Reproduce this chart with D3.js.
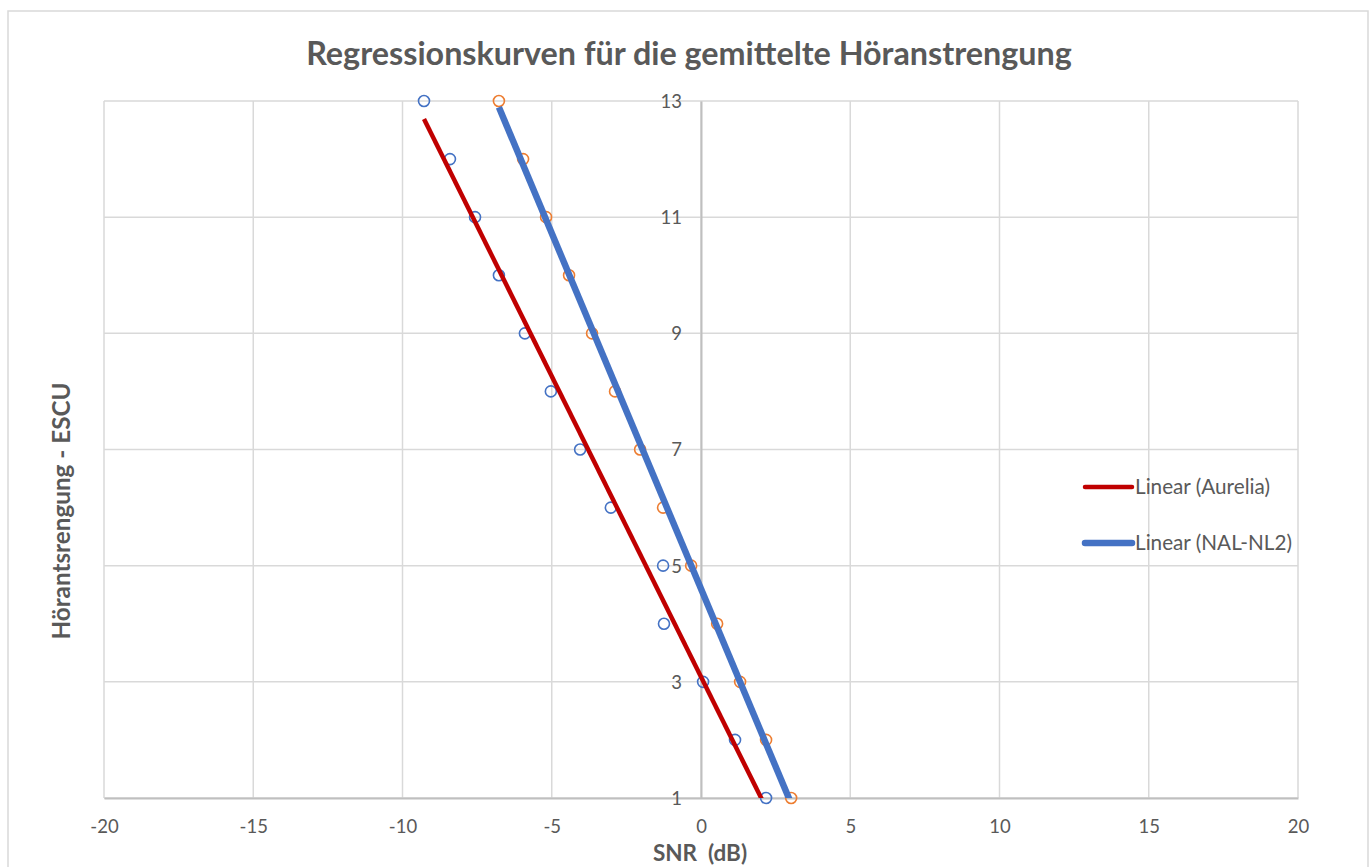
<!DOCTYPE html>
<html>
<head>
<meta charset="utf-8">
<script src="https://cdn.jsdelivr.net/npm/d3@7"></script>
<style>
  html, body { margin: 0; padding: 0; background: #fff; }
  svg { display: block; font-family: Lato, "Open Sans", sans-serif; }
</style>
</head>
<body>
<svg id="chart" width="1370" height="867"></svg>
<script>
// Listening effort levels (ESCU scale), shared by both series
const escuLevels = [13, 12, 11, 10, 9, 8, 7, 6, 5, 4, 3, 2, 1];
// SNR (dB) at each effort level
const snrAurelia = [-9.28, -8.41, -7.57, -6.77, -5.90, -5.03, -4.05, -3.02, -1.27, -1.24, 0.07, 1.14, 2.18];
const snrNalNl2  = [-6.77, -5.96, -5.19, -4.42, -3.65, -2.88, -2.04, -1.27, -0.33, 0.54, 1.31, 2.18, 3.02];

const xTicks = [-20, -15, -10, -5, 0, 5, 10, 15, 20];
const yTicks = [1, 3, 5, 7, 9, 11, 13];

const titleText = "Regressionskurven für die gemittelte Höranstrengung";
const xTitle = "SNR  (dB)";
const yTitle = "Hörantsrengung - ESCU";
const legendLabels = ["Linear (Aurelia)", "Linear (NAL-NL2)"];

const colors = { markerA: "#4472C4", markerB: "#ED7D31", trendA: "#C00000", trendB: "#4472C4" };
const textColor = "#595959";

const svg = d3.select("#chart");
const plot = { left: 104, right: 1298, top: 101, bottom: 798 };

const x = d3.scaleLinear().domain([-20, 20]).range([plot.left, plot.right]);
const y = d3.scaleLinear().domain([1, 13]).range([plot.bottom, plot.top]);

// Plain hyphen-minus for negative tick values
const fmt = d => String(d);

// Scale a text element's font so it spans the given width
function fitWidth(sel, width) {
  const fs = parseFloat(sel.style("font-size"));
  const w = sel.node().getComputedTextLength();
  sel.style("font-size", (fs * width / w).toFixed(2) + "px");
}

// Chart frame
svg.append("rect")
  .attr("x", 8).attr("y", 11).attr("width", 1360).attr("height", 900)
  .attr("fill", "#fff").attr("stroke", "#d9d9d9").attr("stroke-width", 1.5);

// Gridlines
const grid = svg.append("g");
grid.selectAll("line.v").data(xTicks).join("line")
  .attr("x1", d => x(d)).attr("x2", d => x(d))
  .attr("y1", plot.top).attr("y2", plot.bottom)
  .attr("stroke", "#d9d9d9").attr("stroke-width", 1.5);
grid.selectAll("line.h").data(yTicks).join("line")
  .attr("x1", plot.left).attr("x2", plot.right)
  .attr("y1", d => y(d)).attr("y2", d => y(d))
  .attr("stroke", "#d9d9d9").attr("stroke-width", 1.5);

// Axes: value axis crosses at SNR = 0, category axis at ESCU = 1
const xAxis = svg.append("g").attr("transform", `translate(0,${y(1)})`)
  .call(d3.axisBottom(x).tickValues(xTicks).tickSize(0).tickFormat(fmt));
const yAxis = svg.append("g").attr("transform", `translate(${x(0)},0)`)
  .call(d3.axisLeft(y).tickValues(yTicks).tickSize(0).tickPadding(19).tickFormat(fmt));
[xAxis, yAxis].forEach(a => {
  a.attr("font-size", null).attr("font-family", null);
  a.select(".domain").attr("stroke", "#bfbfbf").attr("stroke-width", 2);
  a.selectAll("text").attr("fill", textColor).style("font-size", "18.5px");
});
yAxis.selectAll("text").attr("dy", "0.35em");
xAxis.selectAll("text").attr("dy", "0.35em").attr("y", 29);

// Clip region for trendlines
svg.append("clipPath").attr("id", "plotClip").append("rect")
  .attr("x", plot.left).attr("y", plot.top)
  .attr("width", plot.right - plot.left).attr("height", plot.bottom - plot.top);

// Least-squares fit of ESCU on SNR
function fit(xs, ys) {
  const mx = d3.mean(xs), my = d3.mean(ys);
  let sxy = 0, sxx = 0;
  xs.forEach((v, i) => { sxy += (v - mx) * (ys[i] - my); sxx += (v - mx) * (v - mx); });
  const b = sxy / sxx;
  return { slope: b, intercept: my - b * mx, x0: d3.min(xs), x1: d3.max(xs) };
}

const seriesA = snrAurelia.map((s, i) => ({ snr: s, escu: escuLevels[i] }));
const seriesB = snrNalNl2.map((s, i) => ({ snr: s, escu: escuLevels[i] }));

// Markers
function drawMarkers(data, color) {
  svg.append("g").selectAll("circle").data(data).join("circle")
    .attr("cx", d => x(d.snr)).attr("cy", d => y(d.escu)).attr("r", 5.5)
    .attr("fill", "none").attr("stroke", color).attr("stroke-width", 1.6);
}
drawMarkers(seriesA, colors.markerA);
drawMarkers(seriesB, colors.markerB);

// Trendlines
function drawTrend(xs, color, width) {
  const f = fit(xs, escuLevels);
  svg.append("line").attr("clip-path", "url(#plotClip)")
    .attr("x1", x(f.x0)).attr("y1", y(f.intercept + f.slope * f.x0))
    .attr("x2", x(f.x1)).attr("y2", y(f.intercept + f.slope * f.x1))
    .attr("stroke", color).attr("stroke-width", width);
}
drawTrend(snrAurelia, colors.trendA, 4.5);
drawTrend(snrNalNl2, colors.trendB, 6.5);

// Legend
const legend = svg.append("g");
const legendItems = [
  { label: legendLabels[0], color: colors.trendA, width: 4.5, y: 487 },
  { label: legendLabels[1], color: colors.trendB, width: 6.5, y: 543 }
];
let legendFont = null;
legendItems.forEach(it => {
  legend.append("line").attr("x1", 1085).attr("x2", 1132).attr("y1", it.y).attr("y2", it.y)
    .attr("stroke", it.color).attr("stroke-width", it.width).attr("stroke-linecap", "round");
  const t = legend.append("text").attr("x", 1135).attr("y", it.y).attr("dy", "0.35em")
    .attr("fill", textColor).style("font-size", "16px").text(it.label);
  if (legendFont === null) { fitWidth(t, 135); legendFont = t.style("font-size"); }
  else t.style("font-size", legendFont);
});

// Titles
const title = svg.append("text").attr("x", 689).attr("y", 54).attr("dy", "0.35em")
  .attr("text-anchor", "middle").attr("fill", textColor)
  .style("font-size", "25px").style("font-weight", "bold").text(titleText);
fitWidth(title, 766);

svg.append("text").attr("x", 700).attr("y", 853.5).attr("dy", "0.35em")
  .attr("text-anchor", "middle").attr("fill", textColor).style("white-space", "pre")
  .style("font-size", "22.5px").style("font-weight", "bold").text(xTitle);

const yt = svg.append("text").attr("transform", "translate(61,511) rotate(-90)").attr("dy", "0.35em")
  .attr("text-anchor", "middle").attr("fill", textColor)
  .style("font-size", "20px").style("font-weight", "bold").text(yTitle);
fitWidth(yt, 257);
</script>
</body>
</html>
